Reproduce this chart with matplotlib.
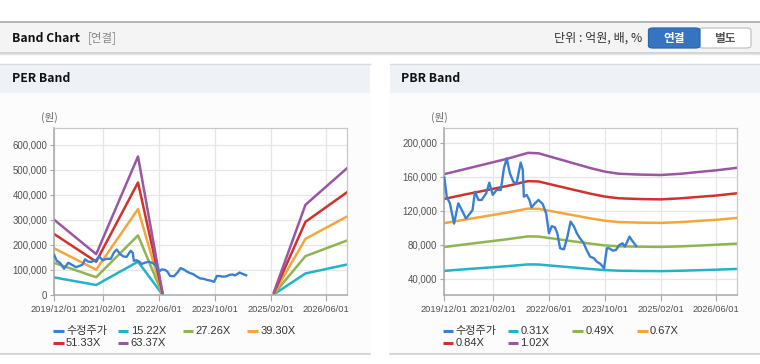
import numpy as np
import matplotlib
matplotlib.use('Agg')
import matplotlib.pyplot as plt
from matplotlib.patches import Rectangle, FancyBboxPatch
from matplotlib.lines import Line2D
from matplotlib.ticker import FuncFormatter

nan = np.nan

# ---------------- data ----------------
tick_months = [0, 14, 30, 46, 62, 78]
tick_labels = ['2019/12/01', '2021/02/01', '2022/06/01', '2023/10/01', '2025/02/01', '2026/06/01']

# adjusted share price (months since 2019/12)
price_months = [0, 0.7, 1.6, 2.8, 4.0, 5, 6.2, 7.4, 8.1, 8.8, 9.8, 10.7, 12, 12.9, 13.9, 15, 16.2,
                17.1, 17.9, 18.8, 19.8, 20.7, 21.9, 22.5, 22.8, 23.6, 24.4, 25, 26, 27, 28.2, 29.2,
                30, 30.8, 31.7, 32.4, 33.2, 34.3, 35.3, 36.2, 37.2, 38, 38.9, 39.9, 40.8, 41.8,
                42.9, 43.7, 44.8, 45.8, 46.6, 47.3, 48.3, 49.2, 50.2, 51.1, 51.8, 53.1, 53.7, 55]
price_values = [159000, 136600, 128800, 105000, 128800, 121000, 111000, 117000, 121000, 142500,
                132700, 132700, 140500, 153000, 138600, 144500, 144500, 170000, 181600, 164000,
                154000, 152000, 176500, 168000, 136600, 138600, 132700, 124000, 128800, 132700,
                128000, 117000, 93600, 102000, 100600, 93600, 76000, 74800, 89700, 107300, 101400,
                93600, 87700, 82600, 74000, 66200, 64300, 60300, 57600, 52500, 76000, 76000, 73300,
                74000, 80000, 81900, 78000, 89700, 85800, 78700]

# PER band
per_months = [0, 12, 24, 31, 47, 63, 72, 84]
per_15_22 = [70000, 40000, 133000, 2000, nan, 3000, 86000, 122000]
per_27_26 = [128000, 71000, 238000, 4000, nan, 5000, 155000, 218000]
per_39_30 = [186000, 101000, 343000, 6000, nan, 8000, 224000, 314000]
per_51_33 = [243000, 133000, 449000, 8000, nan, 10000, 292000, 411000]
per_63_37 = [300000, 163000, 553000, 10000, nan, 13000, 360000, 507000]
per_labels = ['15.22X', '27.26X', '39.30X', '51.33X', '63.37X']

# PBR band
pbr_months = [0, 6, 12, 18, 24, 27, 30, 36, 42, 46, 50, 56, 62, 68, 74, 78, 84]
pbr_0_31 = [49500, 51400, 53200, 55000, 57100, 57000, 55900, 53800, 51700, 50400, 49700, 49400,
            49200, 49700, 50400, 50900, 51800]
pbr_0_49 = [77500, 80600, 83600, 86600, 90000, 89800, 88100, 84700, 81400, 79400, 78300, 77900,
            77600, 78300, 79400, 80200, 81500]
pbr_0_67 = [105500, 109700, 113800, 117900, 122600, 122300, 120100, 115500, 111000, 108400,
            106800, 106100, 105800, 106800, 108400, 109400, 111700]
pbr_0_84 = [134000, 139200, 144100, 149100, 154800, 154400, 151500, 145700, 140000, 136700,
            134700, 133800, 133400, 134700, 136700, 137900, 140600]
pbr_1_02 = [163000, 169000, 175000, 181000, 188000, 187500, 184000, 177000, 170000, 166000,
            163500, 162500, 162000, 163500, 166000, 167500, 170500]
pbr_labels = ['0.31X', '0.49X', '0.67X', '0.84X', '1.02X']

price_label = '수정주가'
colors = ['#3a7fd3', '#22b3c8', '#8fb552', '#f3a63b', '#d0322c', '#9a56a3']

# ---------------- figure ----------------
W, H = 760, 364
fig = plt.figure(figsize=(W / 100, H / 100), dpi=100)
fig.patch.set_facecolor('white')
KR = ['Noto Sans CJK KR', 'DejaVu Sans']
LAT = ['Liberation Sans', 'Noto Sans CJK KR']


def fx(x):
    return x / W


def fy(y):
    return 1 - y / H


def rect(x0, y0, x1, y1, fc, ec='none', lw=0, z=-5):
    fig.patches.append(Rectangle((fx(x0), fy(y1)), fx(x1) - fx(x0), fy(y0) - fy(y1),
                                 transform=fig.transFigure, facecolor=fc, edgecolor=ec,
                                 linewidth=lw, zorder=z))


def hline(y, x0, x1, c, lw=1.0):
    fig.add_artist(Line2D([fx(x0), fx(x1)], [fy(y), fy(y)], color=c, lw=lw,
                          transform=fig.transFigure, zorder=-4))


# top header
hline(22.3, 0, 760, '#b4b4b4', 1.4)
rect(0, 23, 760, 52, '#f4f4f4')
hline(52.6, 0, 760, '#cccccc', 1.2)
hline(53.6, 0, 760, '#e6e6e6', 1.0)
fig.text(fx(12), fy(38), 'Band Chart', fontsize=8.8, fontweight='bold', family=KR,
         color='#111111', va='center', ha='left')
fig.text(fx(88), fy(38), '[연결]', fontsize=8.3, family=KR, color='#888888', va='center', ha='left')
fig.text(fx(642), fy(38.5), '단위 : 억원, 배, %', fontsize=8.7, family=KR, color='#333333',
         va='center', ha='right')
# buttons
fig.patches.append(FancyBboxPatch((fx(699), fy(48)), fx(751) - fx(699), fy(28) - fy(48),
                                  boxstyle='round,pad=0,rounding_size=0.006',
                                  transform=fig.transFigure, facecolor='white',
                                  edgecolor='#c3c3c3', linewidth=0.9, zorder=1))
fig.patches.append(FancyBboxPatch((fx(648.5), fy(48)), fx(700) - fx(648.5), fy(28) - fy(48),
                                  boxstyle='round,pad=0,rounding_size=0.006',
                                  transform=fig.transFigure, facecolor='#3574c0',
                                  edgecolor='#2d66aa', linewidth=0.9, zorder=2))
fig.text(fx(674), fy(38.5), '연결', fontsize=8.4, fontweight='bold', family=KR, color='white',
         va='center', ha='center', zorder=3)
fig.text(fx(725), fy(38.5), '별도', fontsize=8.4, fontweight='bold', family=KR, color='#555555',
         va='center', ha='center', zorder=3)

# panels
panels = [(0, 370, 'PER Band', 12), (390, 760, 'PBR Band', 401)]
for x0, x1, title, tx in panels:
    rect(x0, 64, x1, 93, '#eef2f7')
    rect(x0, 93, x1, 353, '#fcfcfc')
    hline(64, x0, x1, '#d6dbe2', 1.0)
    hline(353.5, x0, x1, '#d0d0d0', 1.2)
    fig.text(fx(tx), fy(79), title, fontsize=8.8, fontweight='bold', family=KR, color='#111111',
             va='center', ha='left')


def style_axis(ax, ylim, yticks):
    ax.set_zorder(10)
    ax.set_facecolor('white')
    ax.set_xlim(0, 84)
    ax.set_ylim(*ylim)
    ax.set_yticks(yticks)
    ax.set_xticks(tick_months)
    ax.set_xticklabels(tick_labels)
    ax.yaxis.set_major_formatter(FuncFormatter(lambda v, p: f'{int(v):,}'))
    ax.grid(True, color='#e6e6e6', lw=0.9)
    ax.set_axisbelow(True)
    for s in ['top', 'right']:
        ax.spines[s].set_color('#c8c8c8')
        ax.spines[s].set_linewidth(0.9)
    for s in ['left', 'bottom']:
        ax.spines[s].set_color('#a8a8a8')
        ax.spines[s].set_linewidth(1.1)
    ax.tick_params(axis='y', length=3, width=0.8, color='#a8a8a8', pad=2, labelsize=6.9,
                   labelcolor='#505050')
    ax.tick_params(axis='x', length=4, width=0.8, color='#a8a8a8', pad=3, labelsize=6.7,
                   labelcolor='#505050')
    for lab in ax.get_xticklabels() + ax.get_yticklabels():
        lab.set_family(LAT)


def legend(x_start, labels):
    names = [price_label] + labels
    for i, (name, c) in enumerate(zip(names, colors)):
        row, col = divmod(i, 4)
        x = x_start + col * 64.8
        y = 330.7 + row * 12.6
        fig.add_artist(Line2D([fx(x), fx(x + 10.5)], [fy(y), fy(y)], color=c, lw=2.2,
                              transform=fig.transFigure, solid_capstyle='butt'))
        fig.text(fx(x + 13), fy(y), name, fontsize=8.0, family=LAT, color='#333333',
                 va='center', ha='left')


# PER axis
ax1 = fig.add_axes([fx(54.3), fy(295), fx(347.3) - fx(54.3), fy(128) - fy(295)])
style_axis(ax1, (0, 666667), range(0, 600001, 100000))
per_series = [per_15_22, per_27_26, per_39_30, per_51_33, per_63_37]
ax1.plot(price_months, price_values, color=colors[0], lw=1.7, zorder=3)
for vals, c in zip(per_series, colors[1:]):
    ax1.plot(per_months, vals, color=c, lw=1.8, zorder=2)
fig.text(fx(49), fy(117), '(원)', fontsize=7.6, family=KR, color='#666666', va='center',
         ha='center')
legend(53, per_labels)

# PBR axis
ax2 = fig.add_axes([fx(444.3), fy(295), fx(737.3) - fx(444.3), fy(128.3) - fy(295)])
style_axis(ax2, (21200, 216800), range(40000, 200001, 40000))
pbr_series = [pbr_0_31, pbr_0_49, pbr_0_67, pbr_0_84, pbr_1_02]
for vals, c in zip(pbr_series, colors[1:]):
    ax2.plot(pbr_months, vals, color=c, lw=1.8, zorder=2)
ax2.plot(price_months, price_values, color=colors[0], lw=1.7, zorder=3)
fig.text(fx(439), fy(117), '(원)', fontsize=7.6, family=KR, color='#666666', va='center',
         ha='center')
legend(442.7, pbr_labels)

fig.savefig('out.png', dpi=100, facecolor='white')
